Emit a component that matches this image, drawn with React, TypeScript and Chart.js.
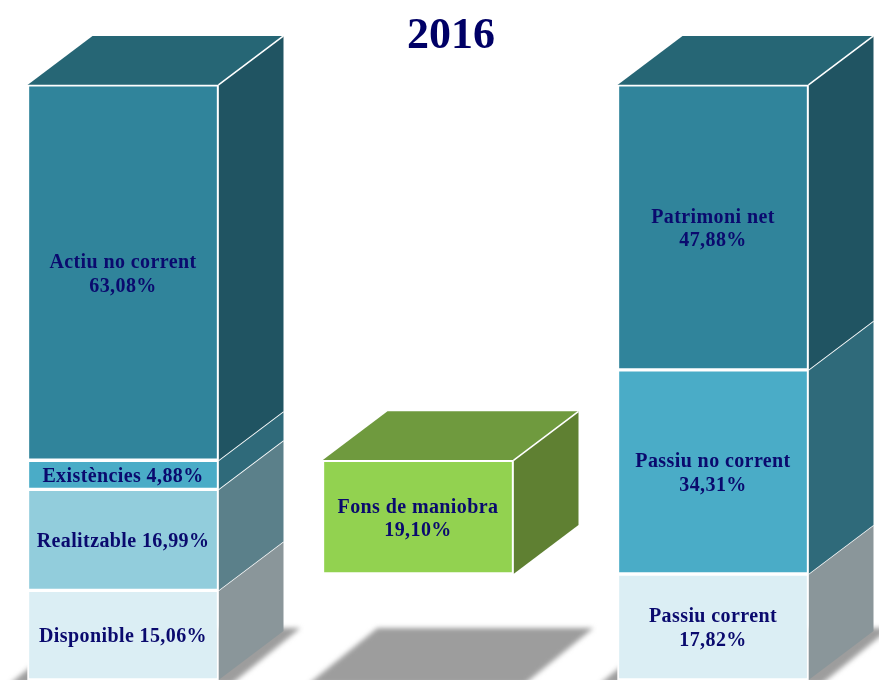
import React, { useEffect, useRef } from "react";
import { Chart, registerables } from "chart.js";

Chart.register(...registerables);

const TITLE = "2016";
const columns = ["Actiu", "Fons de maniobra", "Passiu"];

const disponible = 15.06;
const realitzable = 16.99;
const existencies = 4.88;
const actiuNoCorrent = 63.08;
const fonsDeManiobra = 19.1;
const passiuCorrent = 17.82;
const passiuNoCorrent = 34.31;
const patrimoniNet = 47.88;

const NAVY = "#0a0a6e";
const DEPTH_X = 65;
const DEPTH_Y = 49;
const SHADOW_RISE = 52;
const shadowOffsets = [-18, -14, -18];
const shadowWidths = [222, 216, 222];

const bright = "#4aacc7";
const deep = "#30849b";
const sky = "#92cddc";
const pale = "#dbeef4";

const fmt = (v: number) => v.toFixed(2).replace(".", ",") + "%";

const datasets: any[] = [
  { label: "Disponible", data: [disponible, null, null], backgroundColor: pale, side: "#8a969a", oneLine: true },
  { label: "Realitzable", data: [realitzable, null, null], backgroundColor: sky, side: "#5b808a", oneLine: true },
  { label: "Existències", data: [existencies, null, null], backgroundColor: bright, side: "#2f6a7a", oneLine: true },
  { label: "Actiu no corrent", data: [actiuNoCorrent, null, null], backgroundColor: deep, side: "#205462", top: "#266675" },
  {
    label: "Fons de maniobra",
    data: [null, [passiuCorrent, passiuCorrent + fonsDeManiobra], null],
    shown: fonsDeManiobra,
    backgroundColor: "#92d250",
    side: "#5f8032",
    top: "#6f9a3e",
  },
  { label: "Passiu corrent", data: [null, null, passiuCorrent], backgroundColor: pale, side: "#8a969a" },
  { label: "Passiu no corrent", data: [null, null, passiuNoCorrent], backgroundColor: bright, side: "#2f6a7a" },
  { label: "Patrimoni net", data: [null, null, patrimoniNet], backgroundColor: deep, side: "#205462", top: "#266675" },
];

const cube3d = {
  id: "cube3d",
  beforeDatasetsDraw(chart: any) {
    const { ctx, scales } = chart;
    const floor = scales.y.getPixelForValue(0);
    // ground shadows
    ctx.save();
    ctx.filter = "blur(2.5px)";
    ctx.fillStyle = "#9d9d9d";
    columns.forEach((_, j) => {
      const cx = scales.x.getPixelForTick(j);
      const width = chart.getDatasetMeta(0).data[0].width;
      const left = cx - width / 2 + shadowOffsets[j];
      const w = shadowWidths[j];
      const run = (SHADOW_RISE * DEPTH_X) / DEPTH_Y;
      ctx.beginPath();
      ctx.moveTo(left, floor + 4);
      ctx.lineTo(left + w, floor + 4);
      ctx.lineTo(left + w + run, floor - SHADOW_RISE);
      ctx.lineTo(left + run, floor - SHADOW_RISE);
      ctx.closePath();
      ctx.fill();
    });
    ctx.restore();

    // side and top faces
    datasets.forEach((ds, i) => {
      chart.getDatasetMeta(i).data.forEach((el: any, j: number) => {
        if (ds.data[j] == null) return;
        const right = el.x + el.width / 2;
        const left = el.x - el.width / 2;
        const yTop = Math.min(el.y, el.base);
        const yBot = Math.max(el.y, el.base);
        ctx.save();
        ctx.fillStyle = ds.side;
        ctx.beginPath();
        ctx.moveTo(right, yTop);
        ctx.lineTo(right + DEPTH_X, yTop - DEPTH_Y);
        ctx.lineTo(right + DEPTH_X, yBot - DEPTH_Y);
        ctx.lineTo(right, yBot);
        ctx.closePath();
        ctx.fill();
        if (ds.top) {
          ctx.fillStyle = ds.top;
          ctx.beginPath();
          ctx.moveTo(left, yTop);
          ctx.lineTo(left + DEPTH_X, yTop - DEPTH_Y);
          ctx.lineTo(right + DEPTH_X, yTop - DEPTH_Y);
          ctx.lineTo(right, yTop);
          ctx.closePath();
          ctx.fill();
        }
        ctx.strokeStyle = "#ffffff";
        ctx.lineWidth = 1.6;
        ctx.beginPath();
        ctx.moveTo(right, yTop);
        ctx.lineTo(right + DEPTH_X, yTop - DEPTH_Y);
        ctx.stroke();
        ctx.restore();
      });
    });
  },
  afterDatasetsDraw(chart: any) {
    const { ctx } = chart;
    ctx.save();
    ctx.textAlign = "center";
    ctx.textBaseline = "middle";
    ctx.fillStyle = NAVY;
    ctx.font = "bold 20px 'Liberation Serif'";
    ctx.letterSpacing = "0.4px";
    datasets.forEach((ds, i) => {
      chart.getDatasetMeta(i).data.forEach((el: any, j: number) => {
        const raw = ds.data[j];
        if (raw == null) return;
        const value = ds.shown ?? raw;
        const mid = (el.y + el.base) / 2 + 2;
        if (ds.oneLine) {
          ctx.fillText(`${ds.label} ${fmt(value)}`, el.x, mid);
        } else {
          ctx.fillText(ds.label, el.x, mid - 11.75);
          ctx.fillText(fmt(value), el.x, mid + 11.75);
        }
      });
    });
    ctx.letterSpacing = "0px";
    ctx.font = "bold 44px 'Liberation Serif'";
    ctx.fillStyle = "#000066";
    ctx.fillText(TITLE, 451, 37);
    ctx.restore();
  },
};

export default function App() {
  const ref = useRef<HTMLCanvasElement>(null);
  useEffect(() => {
    const chart = new Chart(ref.current as HTMLCanvasElement, {
      type: "bar",
      data: {
        labels: columns,
        datasets: datasets.map((d) => ({
          ...d,
          borderColor: "#ffffff",
          borderWidth: 2,
          borderSkipped: false,
          barThickness: 191,
          clip: false,
        })),
      },
      options: {
        responsive: false,
        animation: false,
        layout: { padding: { left: 123, right: 166, top: 85, bottom: 0 } },
        plugins: { legend: { display: false }, tooltip: { enabled: false }, title: { display: false } },
        scales: {
          x: { display: false, stacked: true, offset: false, grid: { display: false } },
          y: { display: false, stacked: true, min: 0, max: 100 },
        },
      },
      plugins: [cube3d],
    } as any);
    return () => chart.destroy();
  }, []);
  return (
    <div style={{ position: "absolute", left: 0, top: 0, width: 879, height: 680, background: "#ffffff" }}>
      <canvas ref={ref} width={879} height={680} style={{ display: "block" }} />
    </div>
  );
}
